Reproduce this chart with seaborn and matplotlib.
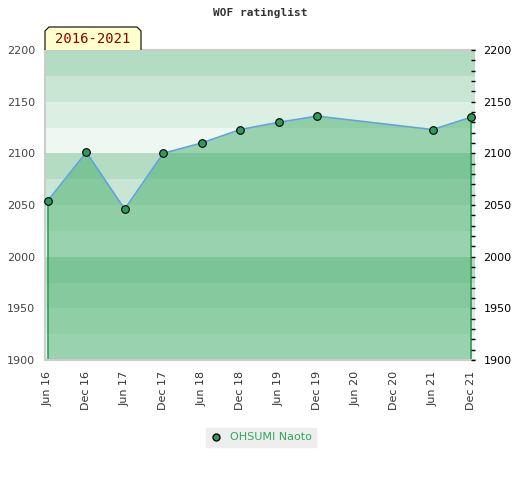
import pandas as pd
import matplotlib
matplotlib.use("Agg")
import matplotlib.pyplot as plt
import matplotlib.dates as mdates
from matplotlib.lines import Line2D
from matplotlib.patches import Polygon
from matplotlib.ticker import MultipleLocator
import seaborn as sns

title = "WOF ratinglist"
period = "2016-2021"
player = "OHSUMI Naoto"
dates = ["2016-06-01", "2016-12-01", "2017-06-01", "2017-12-01", "2018-06-01",
         "2018-12-01", "2019-06-01", "2019-12-01", "2021-06-01", "2021-12-01"]
ratings = [2054, 2101, 2046, 2100, 2110, 2123, 2130, 2136, 2123, 2135]
tick_dates = pd.date_range("2016-06-01", "2021-12-01", freq="6MS")

df = pd.DataFrame({"date": pd.to_datetime(dates), "rating": ratings})

sns.set_style("white")
plt.rcParams["font.family"] = ["DejaVu Sans"]

fig = plt.figure(figsize=(5.2, 4.8), dpi=100)
ax = fig.add_axes([45 / 520, 120 / 480, 430 / 520, 310 / 480])

# background bands, 4 shades per 100 points
band_colors = ["#eef7f1", "#dcefe3", "#c9e6d4", "#b3dcc2"]
for i, lo in enumerate(range(1900, 2200, 25)):
    ax.axhspan(lo, lo + 25, color=band_colors[i % 4], lw=0, zorder=0)

# area under the rating line
ax.fill_between(df["date"], df["rating"], 1900, color="#3daa65", alpha=0.48,
                lw=0, zorder=1)
ax.vlines([df["date"].iloc[0], df["date"].iloc[-1]], 1900,
          [df["rating"].iloc[0], df["rating"].iloc[-1]],
          color="#2f9e55", lw=1.2, zorder=2)

sns.lineplot(data=df, x="date", y="rating", ax=ax, color="#62a3dc", lw=1.2,
             marker="o", markersize=5.5, markerfacecolor="#2e9b5a",
             markeredgecolor="black", markeredgewidth=0.8, zorder=3,
             clip_on=False)

ax.set_xlim(pd.Timestamp("2016-05-19"), pd.Timestamp("2021-12-19"))
ax.set_ylim(1900, 2200)
ax.set_xlabel("")
ax.set_ylabel("")
ax.set_xticks(tick_dates)
ax.xaxis.set_major_formatter(mdates.DateFormatter("%b %y"))
ax.yaxis.set_major_locator(MultipleLocator(50))
ax.tick_params(axis="x", rotation=90, length=0, pad=8, labelsize=8,
               labelcolor="#333333")
ax.tick_params(axis="y", length=0, pad=7, labelsize=8, labelcolor="#444444")
for side in ["top", "left", "bottom"]:
    ax.spines[side].set_color("#cccccc")
    ax.spines[side].set_linewidth(1.5)
ax.spines["right"].set_visible(False)

# right axis with fine ticks
ax2 = ax.twinx()
ax2.set_ylim(1900, 2200)
ax2.yaxis.set_major_locator(MultipleLocator(50))
ax2.yaxis.set_minor_locator(MultipleLocator(10))
ax2.tick_params(axis="y", which="both", direction="in", length=3, width=1,
                color="black", labelsize=8, labelcolor="black", pad=6)
for side in ax2.spines:
    ax2.spines[side].set_visible(False)

fig.text(0.5, 1 - 13 / 480, title, ha="center", va="center",
         family="DejaVu Sans Mono", weight="bold", size=8, color="#333333")

# period tab above the plot (no bottom edge)
tab = [(45, 50), (45, 31), (49, 27), (137, 27), (141, 31), (141, 50)]
fig.add_artist(Polygon([(x / 520, 1 - y / 480) for x, y in tab], closed=False,
                       transform=fig.transFigure, facecolor="#ffffcc",
                       edgecolor="black", lw=0.8))
fig.text(93 / 520, 1 - 39 / 480, period, ha="center", va="center",
         family="DejaVu Sans Mono", size=10, color="#8b0000")

handle = Line2D([], [], marker="o", ls="none", markerfacecolor="#2e9b5a",
                markeredgecolor="black", markersize=5)
ax.legend([handle], [player], loc="center",
          bbox_to_anchor=(261 / 520, 1 - 437.5 / 480),
          bbox_transform=fig.transFigure, frameon=True, fancybox=False,
          facecolor="#eeeeee", edgecolor="#eeeeee", framealpha=1,
          labelcolor="#2eaa5c", fontsize=8, handlelength=1,
          handletextpad=0.8, borderpad=0.4)

fig.savefig("out.png", dpi=100)
